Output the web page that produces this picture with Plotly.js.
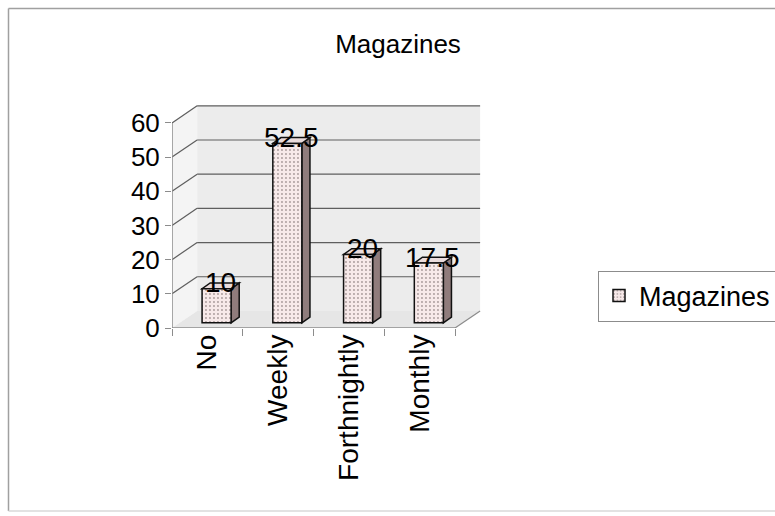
<!DOCTYPE html>
<html>
<head>
<meta charset="utf-8">
<script src="https://cdn.plot.ly/plotly-3.0.1.min.js"></script>
<style>
  html, body { margin: 0; padding: 0; background: #ffffff; overflow: hidden; }
  #chart { width: 775px; height: 516px; }
</style>
</head>
<body>
<div id="chart"></div>
<script>
// Survey answers: how often magazines are read (percent)
const categories = ['No', 'Weekly', 'Forthnightly', 'Monthly'];
const values = [10, 52.5, 20, 17.5];
const yTicks = [0, 10, 20, 30, 40, 50, 60];
const seriesName = 'Magazines';

// ---- page geometry (pixels) ----
const W = 775, H = 516;
const M = { l: 172, r: 290, t: 100, b: 188, autoexpand: false };
const plotW = W - M.l - M.r;
const plotH = H - M.t - M.b;
const toPaperX = p => (p - M.l) / plotW;
const toPaperY = p => (H - M.b - p) / plotH;

// ---- pseudo-3D box (axis units) ----
const X0 = -0.5, X1 = categories.length - 0.5;
const YTOP = yTicks[yTicks.length - 1];
const DX = 0.355, DY = 5;            // depth vector of the box
const BAR_FX = 0.13, BAR_FY = 1.5;   // front face of the bars, set back into the box
const BAR_DX = 0.115, BAR_DY = 1.7;  // bar depth
const BAR_W = 0.41;
const XMAX = 3.924, YMAX = 66.7;

const FONT = 'Liberation Sans, Arial, sans-serif';
const WALL = '#ececec', FLOOR = '#e6e6e6', SIDEWALL = '#f4f4f4';
const GRID = '#5e5e5e', AXIS = '#8c8c8c';
const BAR_FRONT = '#f7e9e9', BAR_SIDE = '#907c7c', BAR_TOP = '#eadcdc';

const poly = pts => 'M' + pts.map(p => p[0] + ',' + p[1]).join(' L') + ' Z';

const shapes = [];
// outer chart frame: left, top and bottom edges (right edge runs off the page)
const fl = toPaperX(8.5), fr = toPaperX(W), ft = toPaperY(8.5), fb = toPaperY(511);
const frameLine = { color: '#a0a0a0', width: 1.5 };
shapes.push({ type: 'line', xref: 'paper', yref: 'paper', layer: 'below', x0: fl, y0: ft, x1: fr, y1: ft, line: frameLine });
shapes.push({ type: 'line', xref: 'paper', yref: 'paper', layer: 'below', x0: fl, y0: ft, x1: fl, y1: fb, line: frameLine });
shapes.push({ type: 'line', xref: 'paper', yref: 'paper', layer: 'below', x0: fl, y0: fb, x1: fr, y1: fb,
  line: { color: '#d8d8d8', width: 1.5 } });

// walls and floor
shapes.push({ type: 'path', xref: 'x', yref: 'y', layer: 'below',
  path: poly([[X0 + DX, DY], [X1 + DX, DY], [X1 + DX, YTOP + DY], [X0 + DX, YTOP + DY]]),
  fillcolor: WALL, line: { width: 0 } });
shapes.push({ type: 'path', xref: 'x', yref: 'y', layer: 'below',
  path: poly([[X0, 0], [X0 + DX, DY], [X0 + DX, YTOP + DY], [X0, YTOP]]),
  fillcolor: SIDEWALL, line: { width: 0 } });
shapes.push({ type: 'path', xref: 'x', yref: 'y', layer: 'below',
  path: poly([[X0, 0], [X1, 0], [X1 + DX, DY], [X0 + DX, DY]]),
  fillcolor: FLOOR, line: { width: 0 } });

// gridlines: along the side wall, then across the back wall
yTicks.slice(1).forEach(v => {
  shapes.push({ type: 'line', xref: 'x', yref: 'y', layer: 'below',
    x0: X0, y0: v, x1: X0 + DX, y1: v + DY, line: { color: GRID, width: 1.2 } });
  shapes.push({ type: 'line', xref: 'x', yref: 'y', layer: 'below',
    x0: X0 + DX, y0: v + DY, x1: X1 + DX, y1: v + DY, line: { color: GRID, width: 1.2 } });
});

// front axes and floor edge
shapes.push({ type: 'line', xref: 'x', yref: 'y', layer: 'below',
  x0: X0, y0: 0, x1: X0, y1: YTOP, line: { color: AXIS, width: 1.5 } });
shapes.push({ type: 'line', xref: 'x', yref: 'y', layer: 'below',
  x0: X0, y0: 0, x1: X1, y1: 0, line: { color: AXIS, width: 1.5 } });
shapes.push({ type: 'line', xref: 'x', yref: 'y', layer: 'below',
  x0: X1, y0: 0, x1: X1 + DX, y1: DY, line: { color: AXIS, width: 1.2 } });

// bar side and top faces, derived from each value
const off = -BAR_W / 2 + BAR_FX;
const annotations = [];
values.forEach((v, i) => {
  const xl = i + off, xr = xl + BAR_W, yb = BAR_FY, yt = BAR_FY + v;
  shapes.push({ type: 'path', xref: 'x', yref: 'y', layer: 'below',
    path: poly([[xr, yb], [xr + BAR_DX, yb + BAR_DY], [xr + BAR_DX, yt + BAR_DY], [xr, yt]]),
    fillcolor: BAR_SIDE, line: { color: '#111', width: 1.5 } });
  shapes.push({ type: 'path', xref: 'x', yref: 'y', layer: 'below',
    path: poly([[xl, yt], [xr, yt], [xr + BAR_DX, yt + BAR_DY], [xl + BAR_DX, yt + BAR_DY]]),
    fillcolor: BAR_TOP, line: { color: '#111', width: 1.5 } });
  annotations.push({ xref: 'x', yref: 'y', x: xl + BAR_W / 2 + BAR_DX / 2, y: yt + BAR_DY,
    text: String(v), showarrow: false, xanchor: 'center', yanchor: 'middle',
    font: { family: FONT, size: 28, color: '#000' } });
});

const trace = {
  type: 'bar',
  name: seriesName,
  x: categories,
  y: values,
  base: BAR_FY,
  width: BAR_W,
  offset: off,
  marker: {
    color: BAR_FRONT,
    line: { color: '#111', width: 1.5 },
    pattern: { shape: '.', bgcolor: BAR_FRONT, fgcolor: '#a89a9a', size: 4, solidity: 0.18 }
  },
  hoverinfo: 'x+y'
};

const layout = {
  width: W, height: H,
  margin: M,
  paper_bgcolor: '#ffffff',
  plot_bgcolor: 'rgba(0,0,0,0)',
  font: { family: FONT, color: '#000' },
  title: { text: 'Magazines', x: 398 / W, xanchor: 'center', y: 1 - 44 / H, yanchor: 'middle',
           font: { family: FONT, size: 26, color: '#000' } },
  showlegend: true,
  legend: { x: toPaperX(598), y: toPaperY(296), xanchor: 'left', yanchor: 'middle',
            bgcolor: '#ffffff', bordercolor: '#8c8c8c', borderwidth: 1,
            font: { family: FONT, size: 27, color: '#000' } },
  xaxis: {
    type: 'category', range: [X0, XMAX], fixedrange: true, automargin: false,
    showgrid: false, zeroline: false, showline: false,
    tickson: 'boundaries', ticks: 'outside', ticklen: 7, tickcolor: AXIS,
    tickangle: -90, tickfont: { family: FONT, size: 28, color: '#000' }
  },
  yaxis: {
    range: [0, YMAX], fixedrange: true, automargin: false,
    tickvals: yTicks, ticktext: yTicks.map(String),
    showgrid: false, zeroline: false, showline: false,
    ticks: 'outside', ticklen: 6, tickcolor: AXIS,
    tickfont: { family: FONT, size: 26, color: '#000' }
  },
  shapes: shapes,
  annotations: annotations
};

Plotly.newPlot('chart', [trace], layout, { displayModeBar: false, staticPlot: true });
</script>
</body>
</html>
